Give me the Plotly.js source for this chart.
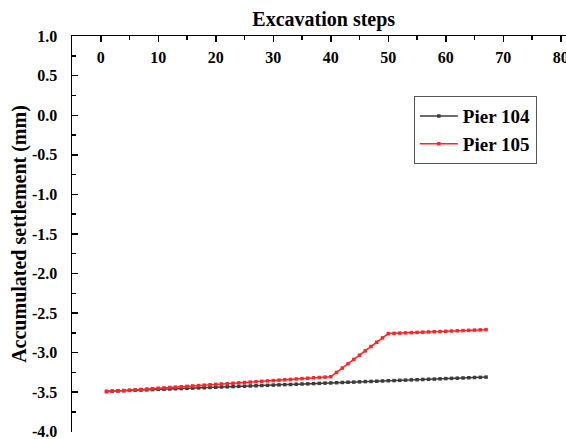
<!DOCTYPE html>
<html>
<head>
<meta charset="utf-8">
<script src="https://cdn.plot.ly/plotly-3.0.1.min.js"></script>
<style>html,body{margin:0;padding:0;background:#fff;}#chart{width:566px;height:439px;}</style>
</head>
<body>
<div id="chart"></div>
<script>
const steps = [1,2,3,4,5,6,7,8,9,10,11,12,13,14,15,16,17,18,19,20,21,22,23,24,25,26,27,28,29,30,31,32,33,34,35,36,37,38,39,40,41,42,43,44,45,46,47,48,49,50,51,52,53,54,55,56,57,58,59,60,61,62,63,64,65,66,67];
const pier104 = [-3.490,-3.487,-3.485,-3.482,-3.479,-3.476,-3.474,-3.471,-3.468,-3.465,-3.463,-3.460,-3.457,-3.455,-3.452,-3.449,-3.446,-3.444,-3.441,-3.438,-3.435,-3.433,-3.430,-3.427,-3.425,-3.422,-3.419,-3.416,-3.414,-3.411,-3.408,-3.405,-3.403,-3.400,-3.397,-3.395,-3.392,-3.389,-3.386,-3.384,-3.381,-3.378,-3.375,-3.373,-3.370,-3.367,-3.365,-3.362,-3.359,-3.356,-3.354,-3.351,-3.348,-3.345,-3.343,-3.340,-3.337,-3.335,-3.332,-3.329,-3.326,-3.324,-3.321,-3.318,-3.315,-3.313,-3.310];
const pier105 = [-3.495,-3.490,-3.485,-3.480,-3.476,-3.471,-3.466,-3.461,-3.456,-3.451,-3.446,-3.441,-3.437,-3.432,-3.427,-3.422,-3.417,-3.412,-3.407,-3.402,-3.397,-3.393,-3.388,-3.383,-3.378,-3.373,-3.368,-3.363,-3.358,-3.354,-3.349,-3.344,-3.339,-3.334,-3.329,-3.324,-3.319,-3.315,-3.310,-3.305,-3.251,-3.196,-3.142,-3.087,-3.033,-2.978,-2.923,-2.869,-2.814,-2.760,-2.757,-2.754,-2.751,-2.748,-2.745,-2.742,-2.739,-2.736,-2.734,-2.731,-2.728,-2.725,-2.722,-2.719,-2.716,-2.713,-2.710];
const seriesNames = ["Pier 104", "Pier 105"];
const xTickVals = [0,10,20,30,40,50,60,70,80];
const yTickVals = [1.0,0.5,0.0,-0.5,-1.0,-1.5,-2.0,-2.5,-3.0,-3.5,-4.0];

const FONT = "Liberation Serif, Times New Roman, serif";
const traces = [
  {x: steps, y: pier104, name: seriesNames[0], mode: 'lines+markers',
   line: {color: 'rgb(60,60,60)', width: 1.5}, marker: {color: 'rgb(60,60,60)', size: 3.5, symbol: 'square'}},
  {x: steps, y: pier105, name: seriesNames[1], mode: 'lines+markers',
   line: {color: 'rgb(255,40,40)', width: 1.5}, marker: {color: 'rgb(255,40,40)', size: 3.5, symbol: 'square'}}
];
const layout = {
  width: 566, height: 439,
  margin: {l: 72, r: 0, t: 36, b: 7},
  paper_bgcolor: '#fff', plot_bgcolor: '#fff',
  font: {family: FONT, color: '#000'},
  title: {text: 'Excavation steps', font: {family: FONT, size: 20, color: '#000', weight: 'bold'},
          xref: 'container', yref: 'container', x: 0.572, xanchor: 'center', y: 0.957, yanchor: 'middle'},
  showlegend: true,
  legend: {x: 0.692, y: 0.848, xanchor: 'left', yanchor: 'top', bgcolor: '#fff',
           bordercolor: '#555', borderwidth: 1, font: {family: FONT, size: 19, color: '#000', weight: 'bold'},
           tracegroupgap: 0, itemwidth: 38},
  xaxis: {
    side: 'top', range: [-5, 80.9], tickvals: xTickVals, ticktext: xTickVals.map(String),
    ticks: 'inside', ticklen: 6, tickwidth: 1.5, tickcolor: '#000',
    ticklabelposition: 'inside', ticklabeloverflow: 'allow', ticklabelstandoff: 10,
    minor: {dtick: 5, tick0: 0, ticks: 'inside', ticklen: 3.5, tickwidth: 1.5, tickcolor: '#000', showgrid: false},
    showline: true, linecolor: '#000', linewidth: 1.5, showgrid: false, zeroline: false,
    tickfont: {family: FONT, size: 16, color: '#000', weight: 'bold'}
  },
  yaxis: {
    range: [-4.004, 1.002], tickvals: yTickVals, ticktext: yTickVals.map(v => v.toFixed(1)),
    ticks: 'inside', ticklen: 6, tickwidth: 1.5, tickcolor: '#000',
    ticklabelposition: 'outside', ticklabeloverflow: 'allow', ticklabelstandoff: 10,
    minor: {dtick: 0.25, tick0: 0, ticks: 'inside', ticklen: 3.5, tickwidth: 1.5, tickcolor: '#000', showgrid: false},
    showline: true, linecolor: '#000', linewidth: 1.5, showgrid: false, zeroline: false,
    tickfont: {family: FONT, size: 16, color: '#000', weight: 'bold'},
    title: {text: 'Accumulated settlement (mm)', font: {family: FONT, size: 20, color: '#000', weight: 'bold'}, standoff: 0}
  }
};
Plotly.newPlot('chart', traces, layout, {displayModeBar: false, staticPlot: true});
</script>
</body>
</html>
